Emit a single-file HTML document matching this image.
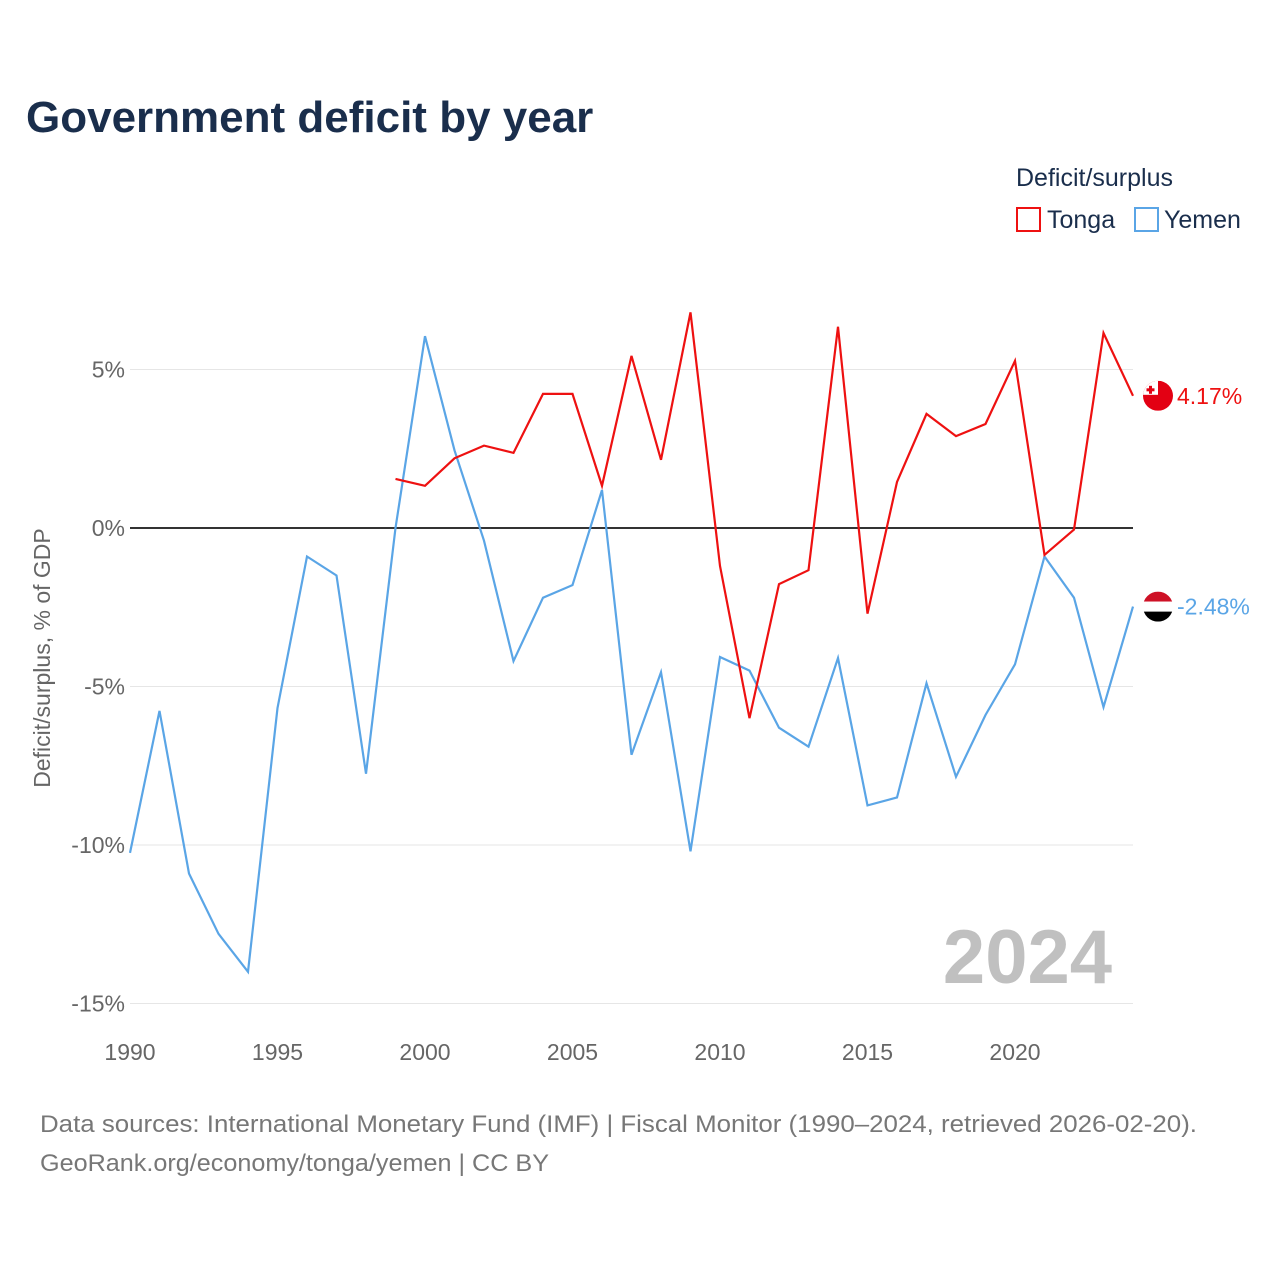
<!DOCTYPE html>
<html><head><meta charset="utf-8">
<style>
html,body{margin:0;padding:0;background:#fff;width:1280px;height:1280px;overflow:hidden}
body{font-family:"Liberation Sans","DejaVu Sans",sans-serif}
</style></head>
<body>
<svg id="chart" width="1280" height="1280" xmlns="http://www.w3.org/2000/svg" font-family="Liberation Sans, DejaVu Sans, sans-serif">
<text x="26" y="132" font-size="44" font-weight="bold" fill="#1a2e4c">Government deficit by year</text>
<text x="1016" y="186" font-size="25" fill="#1a2e4c">Deficit/surplus</text>
<g>
<rect x="1017" y="208" width="23" height="23" fill="none" stroke="#ee1111" stroke-width="2"/>
<text x="1047" y="228" font-size="25" fill="#1a2e4c">Tonga</text></g>
<g>
<rect x="1135" y="208" width="23" height="23" fill="none" stroke="#5aa5e6" stroke-width="2"/>
<text x="1164" y="228" font-size="25" fill="#1a2e4c">Yemen</text></g>
<text transform="translate(50,658) rotate(-90)" text-anchor="middle" font-size="23" fill="#666">Deficit/surplus, % of GDP</text>
<g id="grid"></g>
<text x="1112" y="983" text-anchor="end" font-size="76" font-weight="bold" fill="#c0c0c0">2024</text>
<g id="series"></g>
<text x="40" y="1132" font-size="24" fill="#777" textLength="1157" lengthAdjust="spacingAndGlyphs">Data sources: International Monetary Fund (IMF) | Fiscal Monitor (1990–2024, retrieved 2026-02-20).</text>
<text x="40" y="1171" font-size="24" fill="#777" textLength="509" lengthAdjust="spacingAndGlyphs">GeoRank.org/economy/tonga/yemen | CC BY</text>
</svg>
<script>
const years = [1990,1991,1992,1993,1994,1995,1996,1997,1998,1999,2000,2001,2002,2003,2004,2005,2006,2007,2008,2009,2010,2011,2012,2013,2014,2015,2016,2017,2018,2019,2020,2021,2022,2023,2024];
const yemenValues = [-10.25,-5.77,-10.9,-12.8,-14.0,-5.68,-0.9,-1.5,-7.75,0.0,6.05,2.45,-0.4,-4.2,-2.2,-1.8,1.2,-7.15,-4.55,-10.2,-4.07,-4.5,-6.3,-6.9,-4.1,-8.75,-8.5,-4.9,-7.85,-5.9,-4.3,-0.9,-2.2,-5.65,-2.48];
const tongaValues = [null,null,null,null,null,null,null,null,null,1.55,1.33,2.2,2.6,2.37,4.23,4.23,1.33,5.43,2.15,6.8,-1.2,-6.0,-1.77,-1.33,6.35,-2.7,1.45,3.6,2.9,3.28,5.27,-0.85,-0.05,6.15,4.17];
const yTicks = [5,0,-5,-10,-15];
const yTickLabels = ["5%","0%","-5%","-10%","-15%"];
const xTicks = [1990,1995,2000,2005,2010,2015,2020];

const NS="http://www.w3.org/2000/svg";
const X0=130,X1=1133,Y0=528,PX=31.7;
const xs=y=>X0+(y-1990)*(X1-X0)/(2024-1990);
const ys=v=>Y0-v*PX;
function mk(tag,attrs,parent){const e=document.createElementNS(NS,tag);for(const k in attrs)e.setAttribute(k,attrs[k]);parent.appendChild(e);return e;}
const grid=document.getElementById('grid'), ser=document.getElementById('series');
yTicks.forEach((t,i)=>{
  const l=mk('line',{x1:X0,x2:X1,y1:ys(t),y2:ys(t),stroke:t===0?'#333':'#e6e6e6','stroke-width':t===0?2:1},grid);
  
  
  const tx=mk('text',{x:125,y:ys(t)+8,'text-anchor':'end','font-size':23,fill:'#666'},grid);
  tx.textContent=yTickLabels[i];
  
  
});
xTicks.forEach(t=>{
  const tx=mk('text',{x:xs(t),y:1060,'text-anchor':'middle','font-size':23,fill:'#666'},grid);
  tx.textContent=t;
  
  
});
function line(vals,color,name){
  let d='';vals.forEach((v,i)=>{if(v===null)return;d+=(d?'L':'M')+xs(years[i]).toFixed(1)+','+ys(v).toFixed(1);});
  const p=mk('path',{d:d,fill:'none',stroke:color,'stroke-width':2.2,'stroke-linejoin':'miter'},ser);
  
  
}
line(yemenValues,'#5aa5e6','yemen-line');
line(tongaValues,'#ee1111','tonga-line');
const tv=tongaValues[tongaValues.length-1], yv=yemenValues[yemenValues.length-1];
const fx=1158;
const tg=mk('g',{},ser);


const ctp=mk('clipPath',{id:'ct'},tg);mk('circle',{cx:fx,cy:ys(tv),r:15},ctp);
const tgi=mk('g',{'clip-path':'url(#ct)'},tg);
mk('rect',{x:fx-15,y:ys(tv)-15,width:30,height:30,fill:'#e30013'},tgi);
mk('rect',{x:fx-15,y:ys(tv)-15,width:15,height:14,fill:'#fff'},tgi);
mk('rect',{x:fx-9,y:ys(tv)-10,width:3,height:8,fill:'#e30013'},tgi);
mk('rect',{x:fx-11.5,y:ys(tv)-7.5,width:8,height:3,fill:'#e30013'},tgi);
const tl=mk('text',{x:1177,y:ys(tv)+8,'font-size':23,fill:'#ee1111'},ser);
tl.textContent=tv.toFixed(2)+'%';


const yg=mk('g',{},ser);


const cy=mk('clipPath',{id:'cy'},yg);mk('circle',{cx:fx,cy:ys(yv),r:15},cy);
const ygi=mk('g',{'clip-path':'url(#cy)'},yg);
mk('rect',{x:fx-15,y:ys(yv)-15,width:30,height:10,fill:'#ce1126'},ygi);
mk('rect',{x:fx-15,y:ys(yv)-5,width:30,height:10,fill:'#fff'},ygi);
mk('rect',{x:fx-15,y:ys(yv)+5,width:30,height:10,fill:'#000'},ygi);
const yl=mk('text',{x:1177,y:ys(yv)+8,'font-size':23,fill:'#5aa5e6'},ser);
yl.textContent=yv.toFixed(2)+'%';


</script>
</body></html>
